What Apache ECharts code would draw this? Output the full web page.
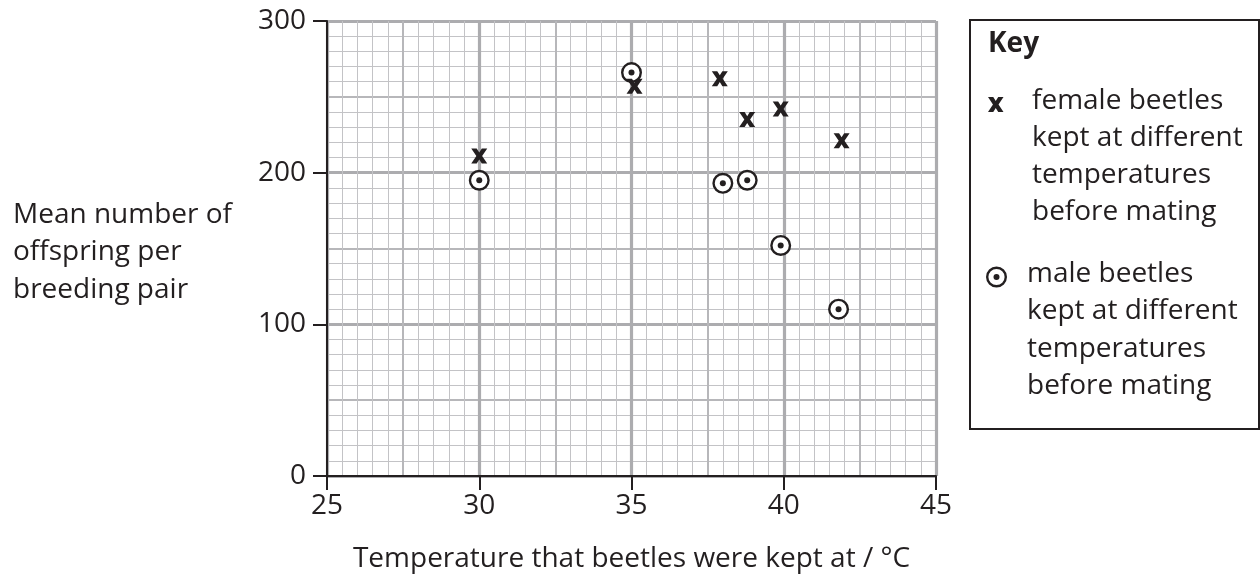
<!DOCTYPE html>
<html>
<head>
<meta charset="utf-8">
<script src="https://cdn.jsdelivr.net/npm/echarts@6/dist/echarts.min.js"></script>
<style>
html,body{margin:0;padding:0;background:#fff;}
#chart{width:1260px;height:576px;}
</style>
</head>
<body>
<div id="chart"></div>
<script>
// ---- data ----
var femaleTemp = [30, 35.1, 37.9, 38.8, 39.9, 41.9];
var femaleOffspring = [211, 257, 262, 235, 242, 221];
var maleTemp = [30, 35, 38, 38.8, 39.9, 41.8];
var maleOffspring = [195, 266, 193, 195, 152, 110];
var xTickLabels = ['25', '30', '35', '40', '45'];
var yTickLabels = ['0', '100', '200', '300'];
var yTitleLines = ['Mean number of', 'offspring per', 'breeding pair'];
var xTitle = 'Temperature that beetles were kept at / °C';
var keyTitle = 'Key';
var keyFemaleLines = ['female beetles', 'kept at different', 'temperatures', 'before mating'];
var keyMaleLines = ['male beetles', 'kept at different', 'temperatures', 'before mating'];

var INK = '#231f20';
var FONT = '"Open Sans", "Noto Sans", sans-serif';
var FS = 28;

function pairs(xs, ys) { return xs.map(function (x, i) { return [x, ys[i]]; }); }

var crossPts = [[0,0],[34,0],[50,27],[66,0],[100,0],[68,50],[100,100],[66,100],[50,73],[34,100],[0,100],[32,50]];
var crossPath = 'path://M' + crossPts.map(function (p) { return p[0] + ',' + p[1]; }).join(' L') + ' Z';

function xAx(interval, color, width, main) {
  return {
    type: 'value', min: 25, max: 45, interval: interval, position: 'bottom',
    axisLine: main ? { show: true, onZero: false, lineStyle: { color: INK, width: 2 } } : { show: false },
    axisTick: main ? { show: true, inside: false, length: 14, lineStyle: { color: INK, width: 2 } } : { show: false },
    axisLabel: main ? { show: true, margin: 16, color: INK, fontSize: FS, fontFamily: FONT,
      formatter: function (v) { var i = xTickLabels.indexOf(String(v)); return i >= 0 ? xTickLabels[i] : ''; } } : { show: false },
    splitLine: { show: true, lineStyle: { color: color, width: width } }
  };
}
function yAx(interval, color, width, main) {
  return {
    type: 'value', min: 0, max: 300, interval: interval, position: 'left',
    axisLine: main ? { show: true, onZero: false, lineStyle: { color: INK, width: 2 } } : { show: false },
    axisTick: main ? { show: true, inside: false, length: 14, lineStyle: { color: INK, width: 2 } } : { show: false },
    axisLabel: main ? { show: true, margin: 21, color: INK, fontSize: FS, fontFamily: FONT,
      formatter: function (v) { var i = yTickLabels.indexOf(String(v)); return i >= 0 ? yTickLabels[i] : ''; } } : { show: false },
    splitLine: { show: true, lineStyle: { color: color, width: width } }
  };
}

function txt(t, x, y, opts) {
  opts = opts || {};
  return { type: 'text', x: x, y: y, silent: true,
    style: { text: t, fill: INK, font: (opts.bold ? 'bold ' : '') + FS + 'px ' + FONT,
      textAlign: opts.align || 'left', textVerticalAlign: 'middle', align: opts.align || 'left', verticalAlign: 'middle' } };
}

var graphics = [];
yTitleLines.forEach(function (t, i) { graphics.push(txt(t, 13, 215 + i * 37.5)); });
graphics.push(txt(xTitle, 631.5, 559, { align: 'center' }));
// key box
graphics.push({ type: 'rect', silent: true, shape: { x: 970, y: 20, width: 289, height: 409 },
  style: { fill: 'none', stroke: INK, lineWidth: 2 } });
graphics.push(txt(keyTitle, 988, 44, { bold: true }));
keyFemaleLines.forEach(function (t, i) { graphics.push(txt(t, 1032, 101 + i * 37)); });
keyMaleLines.forEach(function (t, i) { graphics.push(txt(t, 1027, 274 + i * 37.5)); });
// key symbols
graphics.push({ type: 'polygon', silent: true,
  shape: { points: crossPts.map(function (p) { return [988 + p[0] * 0.155, 97 + p[1] * 0.15]; }) },
  style: { fill: INK } });
graphics.push({ type: 'circle', silent: true, shape: { cx: 996.5, cy: 277, r: 9.3 }, style: { fill: '#fff', stroke: INK, lineWidth: 2.4 } });
graphics.push({ type: 'circle', silent: true, shape: { cx: 996.5, cy: 277, r: 3 }, style: { fill: INK } });

var chart = echarts.init(document.getElementById('chart'), null, { renderer: 'canvas' });
chart.setOption({
  animation: false,
  backgroundColor: '#fff',
  grid: { left: 327, right: 324, top: 21, bottom: 100, containLabel: false },
  xAxis: [xAx(0.5, '#c3c3c6', 1, false), xAx(2.5, '#b7b7ba', 2, false), xAx(5, '#acacaf', 3.2, true)],
  yAxis: [yAx(10, '#c3c3c6', 1, false), yAx(50, '#b7b7ba', 2, false), yAx(100, '#acacaf', 3, true)],
  series: [
    { type: 'scatter', name: 'male ring', xAxisIndex: 2, yAxisIndex: 2, data: pairs(maleTemp, maleOffspring),
      symbol: 'circle', symbolSize: 18.6, itemStyle: { color: '#fff', borderColor: INK, borderWidth: 2.4, opacity: 1 },
      emphasis: { disabled: true }, silent: true, z: 3 },
    { type: 'scatter', name: 'male dot', xAxisIndex: 2, yAxisIndex: 2, data: pairs(maleTemp, maleOffspring),
      symbol: 'circle', symbolSize: 6, itemStyle: { color: INK, opacity: 1 }, emphasis: { disabled: true }, silent: true, z: 4 },
    { type: 'scatter', name: 'female', xAxisIndex: 2, yAxisIndex: 2, data: pairs(femaleTemp, femaleOffspring),
      symbol: crossPath, symbolSize: [16, 15], symbolKeepAspect: false, itemStyle: { color: INK, opacity: 1 },
      emphasis: { disabled: true }, silent: true, z: 5 }
  ],
  graphic: graphics
});
</script>
</body>
</html>
